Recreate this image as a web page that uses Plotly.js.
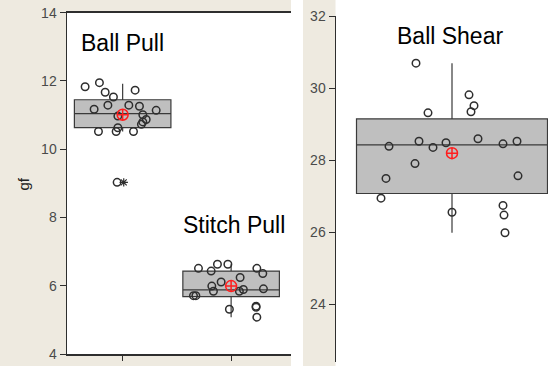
<!DOCTYPE html>
<html>
<head>
<meta charset="utf-8">
<script src="https://cdn.plot.ly/plotly-3.0.1.min.js"></script>
<style>
  html, body { margin: 0; padding: 0; background: #ffffff; }
  #chart { width: 548px; height: 366px; }
</style>
</head>
<body>
<div id="chart"></div>
<script>
// Pull tests (left panel, gf) and ball shear (right panel, gf)
const pullCategories = ['Ball Pull', 'Stitch Pull'];
const shearCategories = ['Ball Shear'];

// Ball Pull readings and their horizontal jitter
const ballPullValues = [11.83, 11.95, 11.67, 11.53, 11.73, 11.17, 11.29, 11.29, 11.26, 11.14,
                        10.97, 11.01, 10.87, 10.80, 10.73, 10.63, 10.52, 10.52, 10.52, 9.03];
const ballPullJitter = [-0.346, -0.214, -0.161, -0.085, 0.115, -0.263, -0.136, 0.057, 0.155, 0.309,
                        -0.044, 0.186, 0.217, 0.186, 0.173, -0.044, -0.223, -0.060, 0.100, -0.051];

// Stitch Pull readings and jitter
const stitchPullValues = [6.51, 6.43, 6.63, 6.63, 6.51, 6.36, 6.24, 6.11, 5.99, 5.84,
                          5.84, 5.89, 5.91, 5.71, 5.71, 5.31, 5.40, 5.37, 5.08];
const stitchPullJitter = [-0.301, -0.184, -0.126, -0.030, 0.237, 0.292, 0.083, -0.092, -0.178, -0.163,
                          0.076, 0.113, 0.298, -0.347, -0.325, -0.016, 0.230, 0.230, 0.237];

// Ball Shear readings and jitter
const ballShearValues = [30.69, 29.31, 29.81, 29.51, 29.34, 28.38, 28.52, 28.35, 28.48, 28.59,
                         28.45, 28.52, 27.90, 27.49, 27.56, 26.94, 26.55, 26.74, 26.47, 25.98];
const ballShearJitter = [-0.36, -0.24, 0.17, 0.22, 0.19, -0.63, -0.33, -0.19, -0.06, 0.26,
                         0.51, 0.65, -0.37, -0.66, 0.66, -0.71, 0.00, 0.51, 0.52, 0.53];

// Box summaries: [Ball Pull, Stitch Pull]
const pullQ1 = [10.63, 5.68];
const pullMedian = [11.04, 5.88];
const pullQ3 = [11.45, 6.43];
const pullLowerFence = [10.52, 5.08];
const pullUpperFence = [11.92, 6.63];
const pullMean = [11.01, 5.99];
const pullOutliers = [9.03];

// Box summary: Ball Shear
const shearQ1 = [27.07];
const shearMedian = [28.42];
const shearQ3 = [29.14];
const shearLowerFence = [25.98];
const shearUpperFence = [30.69];
const shearMean = [28.19];

const W = 548, H = 366;
const FONT = 'Liberation Sans, Arial, Helvetica, sans-serif';
const BEIGE = '#EEEAE0';
const INK = '#2E2E2E';

const pointStyle = { symbol: 'circle-open', size: 7.5, color: INK, line: { width: 1.5, color: INK } };
const meanStyle = { symbol: 'circle-cross-open', size: 11, color: '#FF1E1E', line: { width: 1.5, color: '#FF1E1E' } };
const boxStyle = { fillcolor: '#BFBFBF', line: { color: '#3A3A3A', width: 1.2 }, whiskerwidth: 0 };

const pullPos = pullCategories.map((_, i) => i);
const shearPos = shearCategories.map((_, i) => i);

const traces = [
  Object.assign({
    type: 'box', orientation: 'v', x: pullPos, q1: pullQ1, median: pullMedian, q3: pullQ3,
    lowerfence: pullLowerFence, upperfence: pullUpperFence, width: 0.89,
    boxpoints: false, hoverinfo: 'skip', xaxis: 'x', yaxis: 'y', showlegend: false
  }, boxStyle),
  {
    type: 'scatter', mode: 'markers', xaxis: 'x', yaxis: 'y', showlegend: false,
    x: ballPullJitter.map(d => pullPos[0] + d), y: ballPullValues, marker: pointStyle
  },
  {
    type: 'scatter', mode: 'markers', xaxis: 'x', yaxis: 'y', showlegend: false,
    x: stitchPullJitter.map(d => pullPos[1] + d), y: stitchPullValues, marker: pointStyle
  },
  {
    // outlier flag on the Ball Pull box
    type: 'scatter', mode: 'markers', xaxis: 'x', yaxis: 'y', showlegend: false,
    x: pullOutliers.map(() => pullPos[0] + 0.01), y: pullOutliers,
    marker: { symbol: 'asterisk-open', size: 7, color: INK, line: { width: 1.2, color: INK } }
  },
  {
    type: 'scatter', mode: 'markers', xaxis: 'x', yaxis: 'y', showlegend: false,
    x: pullPos, y: pullMean, marker: meanStyle
  },
  Object.assign({
    type: 'box', orientation: 'v', x: shearPos, q1: shearQ1, median: shearMedian, q3: shearQ3,
    lowerfence: shearLowerFence, upperfence: shearUpperFence, width: 1.91,
    boxpoints: false, hoverinfo: 'skip', xaxis: 'x2', yaxis: 'y2', showlegend: false
  }, boxStyle),
  {
    type: 'scatter', mode: 'markers', xaxis: 'x2', yaxis: 'y2', showlegend: false,
    x: ballShearJitter.map(d => shearPos[0] + d), y: ballShearValues, marker: pointStyle
  },
  {
    type: 'scatter', mode: 'markers', xaxis: 'x2', yaxis: 'y2', showlegend: false,
    x: shearPos, y: shearMean, marker: meanStyle
  }
];

const px = v => v / W;
const py = v => 1 - v / H;

const tickFont = { family: FONT, size: 14, color: '#4A4A4A' };

const layout = {
  width: W, height: H,
  margin: { l: 0, r: 0, t: 0, b: 0, pad: 0 },
  paper_bgcolor: '#ffffff',
  plot_bgcolor: '#ffffff',
  showlegend: false,
  xaxis: {
    domain: [px(67), px(291)], range: [-0.513, 1.552],
    tickvals: pullPos, ticktext: pullCategories.map(() => ''),
    ticks: 'outside', ticklen: 5, tickcolor: INK, tickwidth: 1,
    showline: true, linecolor: INK, linewidth: 1.5, mirror: true,
    showgrid: false, zeroline: false, fixedrange: true
  },
  yaxis: {
    domain: [py(354), py(12.7)], range: [4, 14], tick0: 4, dtick: 2,
    ticks: 'outside', ticklen: 6, tickcolor: INK, tickwidth: 1,
    tickfont: tickFont,
    showline: true, linecolor: INK, linewidth: 1.5,
    showgrid: false, zeroline: false, fixedrange: true
  },
  xaxis2: {
    domain: [px(336), 1], range: [-1.16, 0.96], anchor: 'y2',
    showticklabels: false, ticks: '', showline: false,
    showgrid: false, zeroline: false, fixedrange: true
  },
  yaxis2: {
    domain: [py(362), py(16)], range: [22.39, 32], tick0: 0, dtick: 2, anchor: 'x2',
    ticks: 'outside', ticklen: 6, tickcolor: INK, tickwidth: 1,
    tickfont: tickFont,
    showline: true, linecolor: INK, linewidth: 1.5,
    showgrid: false, zeroline: false, fixedrange: true
  },
  shapes: [
    { type: 'rect', xref: 'paper', yref: 'paper', x0: 0, x1: px(66), y0: 0, y1: 1, fillcolor: BEIGE, line: { width: 0 }, layer: 'below' },
    { type: 'rect', xref: 'paper', yref: 'paper', x0: px(66), x1: px(291), y0: py(12.7), y1: 1, fillcolor: BEIGE, line: { width: 0 }, layer: 'below' },
    { type: 'rect', xref: 'paper', yref: 'paper', x0: px(66), x1: px(291), y0: 0, y1: py(354), fillcolor: BEIGE, line: { width: 0 }, layer: 'below' },
    { type: 'rect', xref: 'paper', yref: 'paper', x0: px(303), x1: px(335.5), y0: 0, y1: 1, fillcolor: BEIGE, line: { width: 0 }, layer: 'below' }
  ],
  annotations: [
    { text: 'Ball Pull', xref: 'x', yref: 'y', x: pullPos[0], y: 13.12, showarrow: false,
      xanchor: 'center', yanchor: 'middle', font: { family: FONT, size: 23, color: '#000' } },
    { text: 'Stitch Pull', xref: 'x', yref: 'y', x: 1.03, y: 7.77, showarrow: false,
      xanchor: 'center', yanchor: 'middle', font: { family: FONT, size: 23, color: '#000' } },
    { text: 'Ball Shear', xref: 'x2', yref: 'y2', x: -0.02, y: 31.44, showarrow: false,
      xanchor: 'center', yanchor: 'middle', font: { family: FONT, size: 23, color: '#000' } },
    { text: 'gf', xref: 'paper', yref: 'paper', x: px(23), y: py(184.5), showarrow: false,
      textangle: -90, xanchor: 'center', yanchor: 'middle', font: { family: FONT, size: 15, color: '#222' } }
  ]
};

Plotly.newPlot('chart', traces, layout, { staticPlot: true, displayModeBar: false });
</script>
</body>
</html>
